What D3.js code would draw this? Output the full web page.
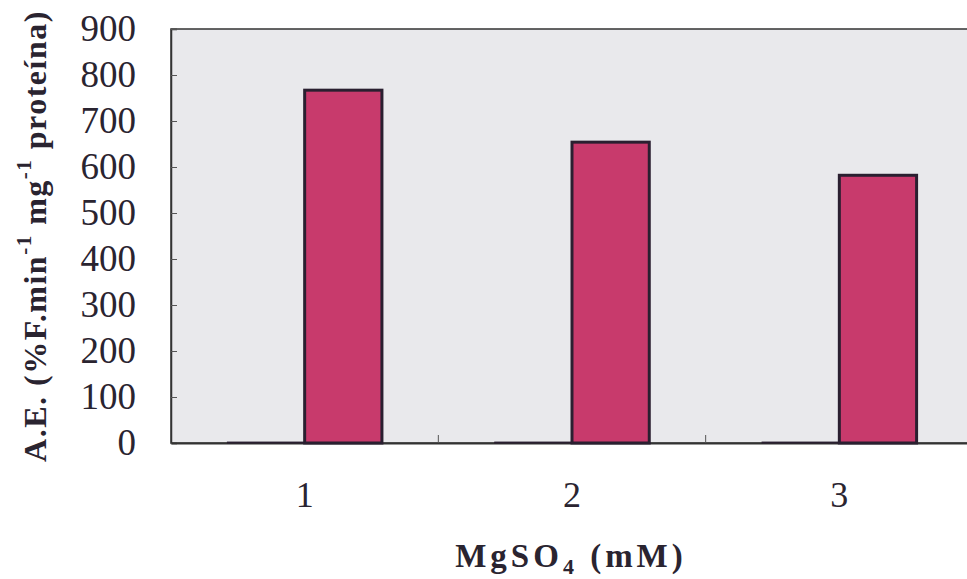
<!DOCTYPE html>
<html><head><meta charset="utf-8">
<script src="https://cdn.jsdelivr.net/npm/d3@7"></script>
<style>body{margin:0;background:#fff}svg{display:block}text{font-family:'Liberation Serif','Times New Roman',Times,serif}</style>
</head><body>
<script>
const categories = ["1", "2", "3"];
const seriesA = [2, 2, 2];
const seriesB = [767, 654, 582];
const yTicks = [0, 100, 200, 300, 400, 500, 600, 700, 800, 900];

const W = 967, H = 579;
const m = {left: 171, top: 29, right: -6, bottom: 136};
const svg = d3.select("body").append("svg").attr("width", W).attr("height", H);
const iw = W - m.left - m.right, ih = H - m.top - m.bottom;
const g = svg.append("g").attr("transform", `translate(${m.left},${m.top})`);
const FONT = "'Liberation Serif','Times New Roman',Times,serif";

const x = d3.scaleBand().domain(categories).range([0, iw]).padding(0);
const y = d3.scaleLinear().domain([0, 900]).range([ih, 0]);
const inner = d3.scaleBand().domain(["A", "B"]).range([0, x.bandwidth()]).paddingOuter(0.73).paddingInner(0);

g.append("rect").attr("width", iw).attr("height", ih).attr("fill", "#e9e9ec").attr("stroke", "#333").attr("stroke-width", 1.5);

const yAxis = d3.axisLeft(y).tickValues(yTicks).tickSize(-6).tickPadding(35).tickFormat(d3.format("d"));
const ya = g.append("g").call(yAxis);
ya.attr("font-family", null);
ya.select(".domain").attr("stroke", "#333").attr("stroke-width", 1.5);
ya.selectAll(".tick line").attr("stroke", "#555");
ya.selectAll("text").style("font-family", FONT).attr("font-size", 37).attr("fill", "#2a2430");

const xAxis = d3.axisBottom(x).tickSize(0).tickPadding(38);
const xa = g.append("g").attr("transform", `translate(0,${ih})`).call(xAxis);
xa.attr("font-family", null);
xa.select(".domain").attr("stroke", "#333").attr("stroke-width", 2);
xa.selectAll("text").style("font-family", FONT).attr("font-size", 36).attr("fill", "#2a2430");
g.selectAll(".sep").data(categories.slice(1)).enter().append("line")
  .attr("x1", d => x(d)).attr("x2", d => x(d)).attr("y1", ih).attr("y2", ih - 8).attr("stroke", "#555");

const grp = g.selectAll(".grp").data(categories).enter().append("g").attr("transform", d => `translate(${x(d)},0)`);
grp.append("rect").attr("x", inner("A")).attr("width", inner.bandwidth())
  .attr("y", (d, i) => y(seriesA[i])).attr("height", (d, i) => ih - y(seriesA[i]))
  .attr("fill", "#2a1f30").attr("stroke", "#2a1f30").attr("stroke-width", 1);
grp.append("rect").attr("x", inner("B")).attr("width", inner.bandwidth())
  .attr("y", (d, i) => y(seriesB[i])).attr("height", (d, i) => ih - y(seriesB[i]))
  .attr("fill", "#c83a6c").attr("stroke", "#2a1f30").attr("stroke-width", 3);

const yt = svg.append("text").attr("transform", `translate(46,236) rotate(-90)`)
  .attr("text-anchor", "middle").style("font-family", FONT).attr("font-weight", "bold")
  .attr("font-size", 32).attr("letter-spacing", 1.5).attr("fill", "#2a2430");
yt.append("tspan").text("A.E. (%F.min");
yt.append("tspan").attr("dy", -15).attr("font-size", 21).text("-1");
yt.append("tspan").attr("dy", 15).text(" mg");
yt.append("tspan").attr("dy", -15).attr("font-size", 21).text("-1");
yt.append("tspan").attr("dy", 15).text(" proteína)");

const xt = svg.append("text").attr("x", 571).attr("y", 567).attr("text-anchor", "middle")
  .style("font-family", FONT).attr("font-weight", "bold").attr("font-size", 33).attr("fill", "#2a2430")
  .attr("letter-spacing", 4);
xt.append("tspan").text("MgSO");
xt.append("tspan").attr("dy", 7).attr("font-size", 22).text("4");
xt.append("tspan").attr("dy", -7).text(" (mM)");
</script>
</body></html>
